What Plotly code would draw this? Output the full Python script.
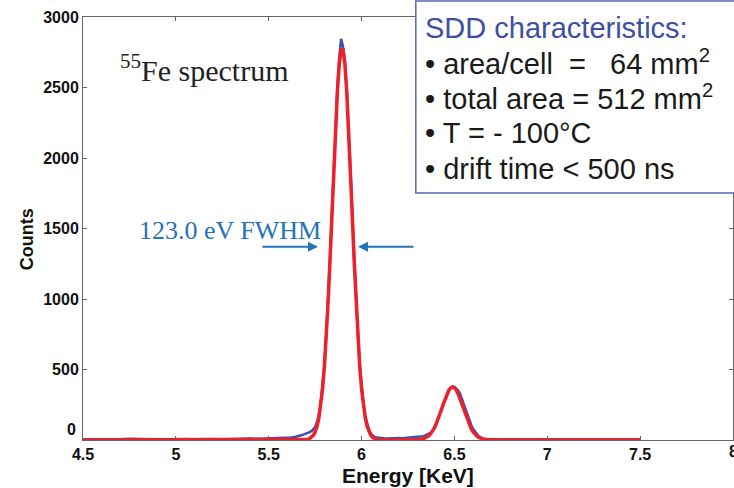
import plotly.graph_objects as go

# measured spectrum (blue), energy in keV
data_energy = [4.50, 4.55, 4.60, 4.65, 4.70, 4.75, 4.80, 4.85, 4.90, 4.95, 5.00,
               5.05, 5.10, 5.15, 5.20, 5.25, 5.30, 5.35, 5.40, 5.45, 5.50,
               5.52, 5.54, 5.56, 5.58, 5.60, 5.62, 5.64, 5.66, 5.68,
               5.69, 5.70, 5.71, 5.72, 5.73, 5.74, 5.75, 5.76, 5.77, 5.78, 5.79,
               5.80, 5.81, 5.82, 5.83, 5.84, 5.85, 5.86, 5.87, 5.88, 5.89,
               5.90, 5.91, 5.92, 5.93, 5.94, 5.95, 5.96, 5.97, 5.98, 5.99,
               6.00, 6.01, 6.02, 6.03, 6.04, 6.05, 6.06, 6.07, 6.08, 6.09, 6.10,
               6.12, 6.14, 6.16, 6.18, 6.20, 6.22, 6.24, 6.26, 6.28,
               6.29, 6.30, 6.31, 6.32, 6.33, 6.34, 6.35, 6.36, 6.37, 6.38, 6.39,
               6.40, 6.41, 6.42, 6.43, 6.44, 6.45, 6.46, 6.47, 6.48, 6.49,
               6.50, 6.51, 6.52, 6.53, 6.54, 6.55, 6.56, 6.57, 6.58, 6.59,
               6.60, 6.61, 6.62, 6.63, 6.64, 6.65, 6.66, 6.67, 6.68, 6.69, 6.70,
               6.75, 6.80, 6.85, 6.90, 6.95, 7.00, 7.05, 7.10, 7.15, 7.20,
               7.25, 7.30, 7.35, 7.40, 7.45, 7.50]
data_counts = [6, 5, 7, 6, 5, 8, 6, 7, 5, 6, 9,
               7, 6, 8, 7, 6, 9, 8, 10, 9, 11,
               12, 11, 14, 13, 16, 18, 22, 27, 35,
               40, 44, 50, 56, 62, 75, 92, 128, 182, 262, 384,
               540, 752, 1001, 1296, 1608, 1935, 2240, 2512, 2720, 2845,
               2790, 2690, 2490, 2236, 1925, 1605, 1290, 996, 748, 540,
               378, 256, 170, 110, 70, 45, 30, 22, 17, 15, 13,
               12, 11, 13, 12, 14, 13, 15, 17, 18,
               20, 21, 23, 24, 27, 31, 36, 42, 50, 62, 82,
               110, 145, 180, 220, 258, 296, 330, 352, 372, 380,
               376, 366, 350, 330, 292, 258, 214, 178, 138, 108,
               80, 60, 42, 29, 19, 13, 9, 7, 6, 5, 5,
               4, 5, 3, 4, 5, 3, 4, 3, 4, 5,
               3, 4, 3, 4, 3, 4]

# fit (red)
fit_energy = [4.50, 5.00, 5.50, 5.60, 5.65,
              5.69, 5.70, 5.71, 5.72, 5.73, 5.74, 5.75, 5.76, 5.77, 5.78, 5.79,
              5.80, 5.81, 5.82, 5.83, 5.84, 5.85, 5.86, 5.87, 5.88, 5.89,
              5.90, 5.91, 5.92, 5.93, 5.94, 5.95, 5.96, 5.97, 5.98, 5.99,
              6.00, 6.01, 6.02, 6.03, 6.04, 6.05, 6.06, 6.07, 6.08, 6.09, 6.10,
              6.15, 6.20, 6.25,
              6.29, 6.30, 6.31, 6.32, 6.33, 6.34, 6.35, 6.36, 6.37, 6.38, 6.39,
              6.40, 6.41, 6.42, 6.43, 6.44, 6.45, 6.46, 6.47, 6.48, 6.49,
              6.50, 6.51, 6.52, 6.53, 6.54, 6.55, 6.56, 6.57, 6.58, 6.59,
              6.60, 6.61, 6.62, 6.63, 6.64, 6.65, 6.66, 6.67, 6.68, 6.69,
              6.75, 7.00, 7.50]
fit_counts = [0, 0, 0, 0, 0.5,
              1.5, 2.5, 5, 10, 18, 33, 57, 96, 155, 241, 362,
              524, 731, 982, 1273, 1589, 1912, 2217, 2476, 2667, 2767,
              2767, 2667, 2476, 2217, 1912, 1589, 1273, 982, 731, 524,
              362, 241, 155, 96, 57, 33, 18, 10, 5, 2.5, 1,
              0, 0, 0,
              1, 1, 3, 4, 7, 12, 18, 28, 41, 58, 80,
              108, 140, 176, 216, 255, 293, 327, 353, 369, 375,
              369, 353, 327, 293, 255, 216, 176, 140, 108, 80,
              58, 41, 28, 18, 12, 7, 4, 3, 1, 1,
              0, 0, 0]

x_ticks = [4.5, 5, 5.5, 6, 6.5, 7, 7.5, 8]
x_labels = ['4.5', '5', '5.5', '6', '6.5', '7', '7.5', '']
y_ticks = [0, 500, 1000, 1500, 2000, 2500, 3000]
y_labels = ['', '500', '1000', '1500', '2000', '2500', '3000']

box_lines = ['\u2022 area/cell \u00a0= \u00a0 64 mm<sup>2</sup>',
             '\u2022 total area = 512 mm<sup>2</sup>',
             '\u2022 T = - 100\u00b0C',
             '\u2022 drift time < 500 ns']

fig = go.Figure()
fig.add_trace(go.Scatter(x=data_energy, y=data_counts, mode='lines',
                         line=dict(color='#3a4fb2', width=2.5), name='data'))
fig.add_trace(go.Scatter(x=fit_energy, y=fit_counts, mode='lines',
                         line=dict(color='#f0202a', width=3.5), name='fit'))

axis_font = dict(family='Liberation Sans, Arial', size=16, color='#111', weight='bold')
fig.update_layout(
    width=734, height=488, autosize=False,
    margin=dict(l=83, r=1, t=17, b=48),
    paper_bgcolor='white', plot_bgcolor='white',
    showlegend=False,
    xaxis=dict(range=[4.5, 8], tickvals=x_ticks, ticktext=x_labels,
               ticks='inside', ticklen=4,
               tickcolor='#666', showline=True, linecolor='#666', linewidth=1,
               mirror='ticks', showgrid=False, zeroline=False, tickfont=axis_font,
               automargin=False),
    yaxis=dict(range=[0, 3000], tickvals=y_ticks, ticktext=y_labels,
               ticks='inside', ticklen=4,
               tickcolor='#666', showline=True, linecolor='#666', linewidth=1,
               mirror='ticks', showgrid=False, zeroline=False, tickfont=axis_font,
               automargin=False),
)

# tick labels that plotly would drop or collide: "0" sits a bit higher, "8" is cut at the edge
fig.add_annotation(xref='paper', yref='paper', x=-0.008, y=0.024, xanchor='right',
                   yanchor='middle', showarrow=False, text='0', font=axis_font)
fig.add_annotation(xref='x', yref='paper', x=8, y=-0.028, xanchor='center',
                   yanchor='middle', showarrow=False, text='8', font=axis_font)

# axis titles
fig.add_annotation(xref='paper', yref='paper', x=0.5, y=-0.085, xanchor='center',
                   yanchor='middle', showarrow=False, text='Energy [KeV]',
                   font=dict(family='Liberation Sans, Arial', size=21,
                             color='#111', weight='bold'))
fig.add_annotation(xref='paper', yref='paper', x=-0.086, y=0.475, xanchor='center',
                   yanchor='middle', showarrow=False, text='Counts', textangle=-90,
                   font=dict(family='Liberation Sans, Arial', size=18,
                             color='#111', weight='bold'))

# characteristics box
fig.add_shape(type='rect', xref='paper', yref='paper', x0=0.512, x1=1.01,
              y0=0.584, y1=1.038, fillcolor='white',
              line=dict(color='#5566b5', width=1.5), layer='above')
fig.add_annotation(xref='paper', yref='paper', x=0.523, y=0.974, xanchor='left',
                   yanchor='middle', showarrow=False, text='SDD characteristics:',
                   font=dict(family='Liberation Sans, Arial', size=29, color='#3d4fa5'))
line_y = [0.894, 0.811, 0.725, 0.641]
for txt, yy in zip(box_lines, line_y):
    fig.add_annotation(xref='paper', yref='paper', x=0.523, y=yy, xanchor='left',
                       yanchor='middle', showarrow=False, text=txt,
                       font=dict(family='Liberation Sans, Arial', size=29, color='#1a1a1a'))

fig.add_annotation(xref='paper', yref='paper', x=0.054, y=0.88, xanchor='left',
                   yanchor='middle', showarrow=False, text='<sup>55</sup>Fe spectrum',
                   font=dict(family='Liberation Serif, serif', size=30, color='#222'))
fig.add_annotation(xref='paper', yref='paper', x=0.083, y=0.496, xanchor='left',
                   yanchor='middle', showarrow=False, text='123.0 eV FWHM',
                   font=dict(family='Liberation Serif, serif', size=26, color='#2373b9'))

# FWHM arrows
fig.add_annotation(x=5.765, y=1370, ax=-57, ay=0, text='', showarrow=True,
                   arrowhead=2, arrowsize=1, arrowwidth=2, arrowcolor='#2373b9')
fig.add_annotation(x=5.981, y=1370, ax=57, ay=0, text='', showarrow=True,
                   arrowhead=2, arrowsize=1, arrowwidth=2, arrowcolor='#2373b9')

# page has a default body margin; drop it so the figure sits at the window corner
fig.write_html('out.html', config={'displayModeBar': False},
               post_script="document.body.style.margin='0';")
